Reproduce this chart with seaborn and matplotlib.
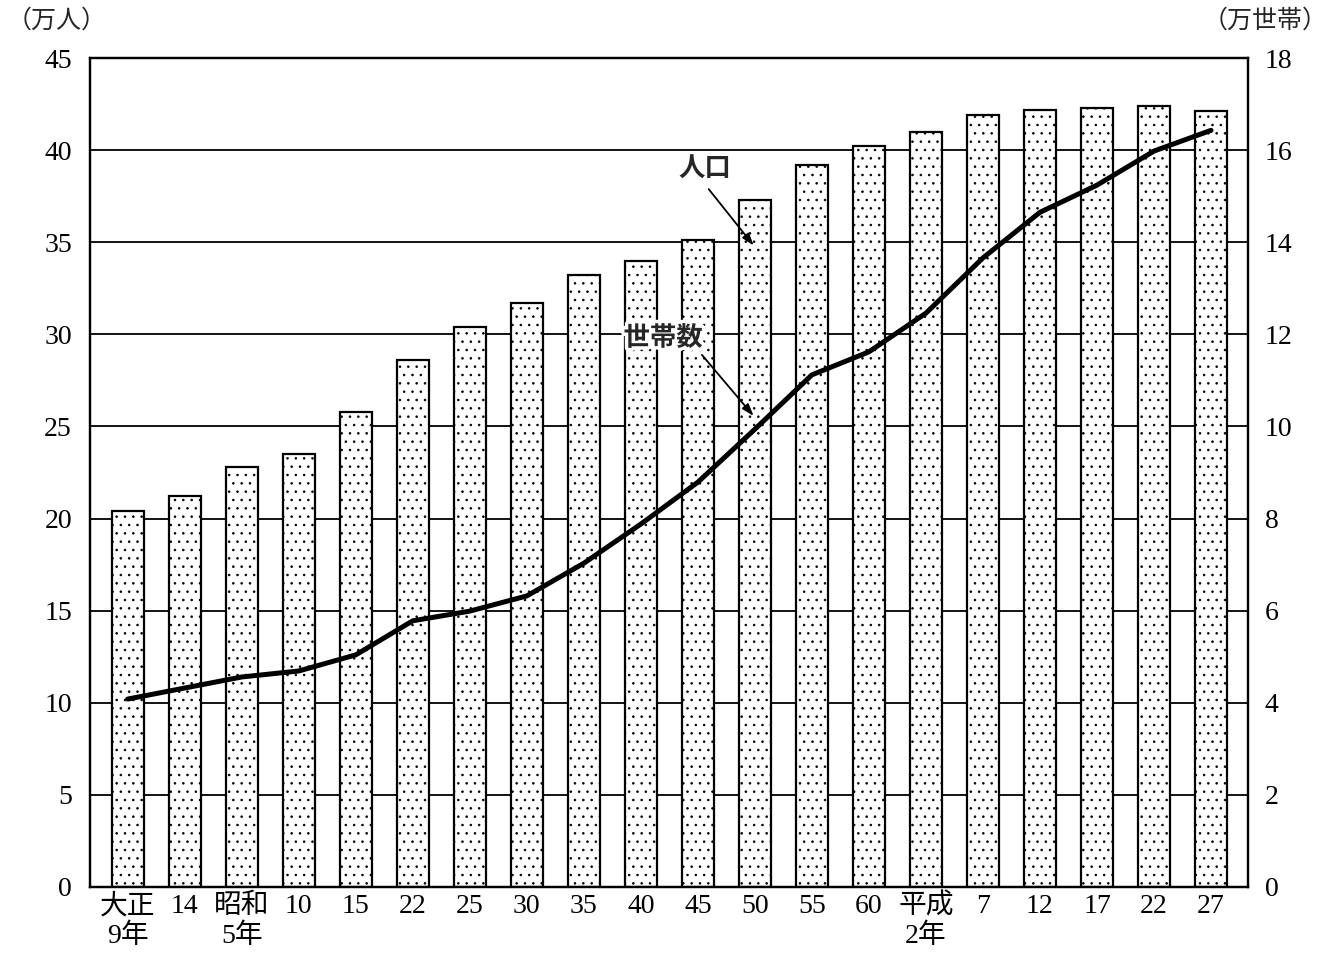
import numpy as np
import pandas as pd
import matplotlib
matplotlib.use("Agg")
import matplotlib.pyplot as plt
import matplotlib.patheffects as pe
import seaborn as sns

# data
years = ["大正\n9年", "14", "昭和\n5年", "10", "15", "22", "25", "30", "35", "40",
         "45", "50", "55", "60", "平成\n2年", "7", "12", "17", "22", "27"]
population = [20.4, 21.2, 22.8, 23.5, 25.8, 28.6, 30.4, 31.7, 33.2, 34.0,
              35.1, 37.3, 39.2, 40.2, 41.0, 41.9, 42.2, 42.3, 42.4, 42.1]   # 万人
households = [4.08, 4.32, 4.56, 4.69, 5.04, 5.78, 5.99, 6.32, 7.03, 7.88,
              8.79, 9.94, 11.12, 11.62, 12.46, 13.66, 14.65, 15.24, 15.98, 16.43]  # 万世帯

# "22" shows up twice (昭和22 and 平成22), so bars go on a position index
df = pd.DataFrame({"pos": np.arange(len(years)), "pop": population, "hh": households})

sns.set_theme(style="white")
plt.rcParams['font.family'] = ['Liberation Serif', 'Noto Sans CJK JP']
plt.rcParams['hatch.color'] = '#777777'
plt.rcParams['hatch.linewidth'] = 0.6

fig = plt.figure(figsize=(13.32, 9.56), dpi=100)
ax = fig.add_axes([0.0676, 0.0722, 0.8694, 0.8671])

# population bars
sns.barplot(data=df, x="pos", y="pop", color="white", edgecolor="black",
            linewidth=1.6, width=0.56, saturation=1, errorbar=None, ax=ax, zorder=2)
for p in ax.patches:
    p.set_hatch('..')

ax.set_ylim(0, 45)
ax.set_xlim(-0.66, 19.65)
ax.set_yticks(np.arange(0, 46, 5))
ax.set_xticks(np.arange(len(years)))
ax.set_xticklabels(years)
ax.yaxis.grid(True, color="black", linewidth=1.3)
ax.set_axisbelow(True)
ax.set_xlabel("")
ax.set_ylabel("")
ax.tick_params(axis="both", length=0, labelsize=20, colors="black")
ax.tick_params(axis="y", pad=13)
ax.tick_params(axis="x", pad=5)
for s in ax.spines.values():
    s.set_color("black")
    s.set_linewidth(1.6)

# households line
ax2 = ax.twinx()
sns.lineplot(data=df, x="pos", y="hh", color="black", linewidth=3.6, ax=ax2,
             solid_capstyle="round")
ax2.set_ylim(0, 18)
ax2.set_xlim(-0.66, 19.65)
ax2.set_yticks(np.arange(0, 19, 2))
ax2.set_ylabel("")
ax2.set_xlabel("")
ax2.tick_params(axis="y", length=0, labelsize=20, colors="black", pad=12)
for s in ax2.spines.values():
    s.set_color("black")
    s.set_linewidth(1.6)

# callouts
ax2.text(10.13, 15.6, "人口", fontsize=19, fontweight="bold", ha="center", va="center",
         family=['Noto Sans CJK JP'])
ax2.annotate("", xy=(11.01, 13.88), xytext=(10.16, 15.2),
             arrowprops=dict(arrowstyle="-|>,head_length=0.6,head_width=0.2",
                             color="black", lw=1.3))
ax2.text(9.39, 11.92, "世帯数", fontsize=19, fontweight="bold", ha="center", va="center",
         family=['Noto Sans CJK JP'],
         path_effects=[pe.withStroke(linewidth=5, foreground="white")])
ax2.annotate("", xy=(11.01, 10.18), xytext=(10.04, 11.6),
             arrowprops=dict(arrowstyle="-|>,head_length=0.6,head_width=0.2",
                             color="black", lw=1.3))

# unit labels
fig.text(0.005, 0.978, "（万人）", fontsize=18, ha="left", va="center")
fig.text(0.997, 0.978, "（万世帯）", fontsize=18, ha="right", va="center")

plt.savefig("out.png", dpi=100)
